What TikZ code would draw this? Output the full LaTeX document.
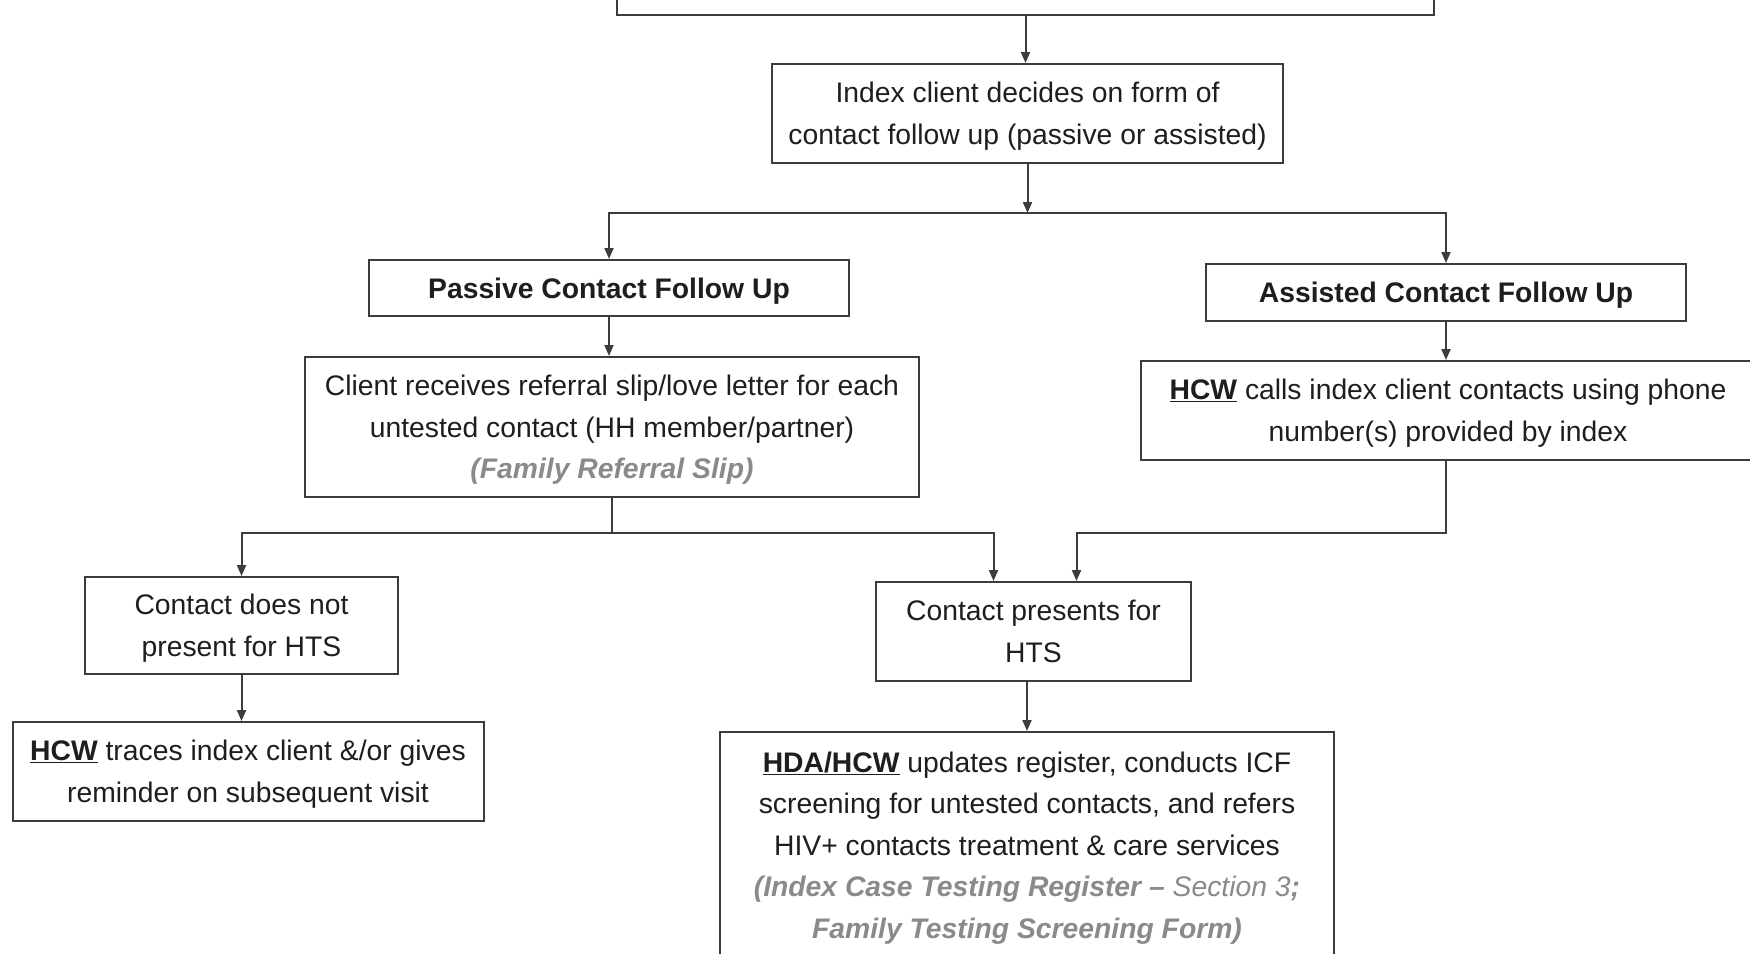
\documentclass[tikz,border=0pt]{standalone}
\usepackage{fontspec}
\setmainfont{Liberation Sans}
\usetikzlibrary{arrows.meta,calc}
\definecolor{linec}{HTML}{3C3C3C}
\definecolor{greyt}{HTML}{8A8A8A}
\definecolor{textc}{HTML}{1E1E1E}
\newcommand{\mytop}{\rule{0pt}{27pt}}
\newcommand{\mybot}{\rule[-7pt]{0pt}{7pt}}
\begin{document}
\begin{tikzpicture}[x=1pt,y=-1pt,
  box/.style={draw=linec, line width=2pt, inner sep=0pt, align=center, text=textc,
    font=\fontsize{28.3}{41.5}\selectfont},
  arr/.style={draw=linec, line width=2pt, -{Triangle[length=11pt,width=9pt]}},
  conn/.style={draw=linec, line width=2pt}]
\useasboundingbox (0,0) rectangle (1750,953);
\fill[white] (0,0) rectangle (1750,953);

\node[box, minimum width=817, minimum height=90] (top) at (1025.5,-30) {};
\node[box, minimum width=511, minimum height=99] (index) at (1027.5,113.5)
  {\mytop Index client decides on form of\\contact follow up (passive or assisted)\mybot};
\node[box, minimum width=480, minimum height=56] (passive) at (609,288)
  {\mytop\textbf{Passive Contact Follow Up}\mybot};
\node[box, minimum width=480, minimum height=57] (assisted) at (1446,292.5)
  {\mytop\textbf{Assisted Contact Follow Up}\mybot};
\node[box, minimum width=614, minimum height=140] (client) at (612,427)
  {\mytop Client receives referral slip/love letter for each\\untested contact (HH member/partner)\\
   {\color{greyt}\bfseries\itshape (Family Referral Slip)}\mybot};
\node[box, minimum width=614, minimum height=99] (hcwcalls) at (1448,410.5)
  {\mytop\textbf{\underline{HCW}} calls index client contacts using phone\\number(s) provided by index\mybot};
\node[box, minimum width=313, minimum height=97] (notpres) at (241.5,625.5)
  {\mytop Contact does not\\present for HTS\mybot};
\node[box, minimum width=471, minimum height=99] (traces) at (248,771.5)
  {\mytop\textbf{\underline{HCW}} traces index client \&/or gives\\reminder on subsequent visit\mybot};
\node[box, minimum width=315, minimum height=99] (presents) at (1033.5,631.5)
  {\mytop Contact presents for\\HTS\mybot};
\node[box, minimum width=614, minimum height=226] (hda) at (1027,845)
  {\mytop\textbf{\underline{HDA/HCW}} updates register, conducts ICF\\
   screening for untested contacts, and refers\\
   HIV+ contacts treatment \& care services\\
   {\color{greyt}\bfseries\itshape (Index Case Testing Register \textendash{} \mdseries Section 3\bfseries ;}\\
   {\color{greyt}\bfseries\itshape Family Testing Screening Form)}\mybot};

\coordinate (j1) at (1027.5,213);
\coordinate (j2) at (612,533);
\coordinate (j3) at (1446,533);

\draw[arr] (top.south) -- (top.south |- index.north);
\draw[arr] (index.south) -- (j1);
\draw[arr] (j1) -| (passive.north);
\draw[arr] (j1) -| (assisted.north);
\draw[arr] (passive.south) -- (passive.south |- client.north);
\draw[arr] (assisted.south) -- (assisted.south |- hcwcalls.north);
\draw[conn] (client.south) -- (j2);
\draw[arr] (j2) -| (notpres.north);
\draw[arr] (j2) -| ([xshift=-40pt]presents.north);
\draw[arr] (hcwcalls.south -| j3) -- (j3) -| ([xshift=43pt]presents.north);
\draw[arr] (notpres.south) -- (notpres.south |- traces.north);
\draw[arr] (hda.north |- presents.south) -- (hda.north);
\end{tikzpicture}
\end{document}
